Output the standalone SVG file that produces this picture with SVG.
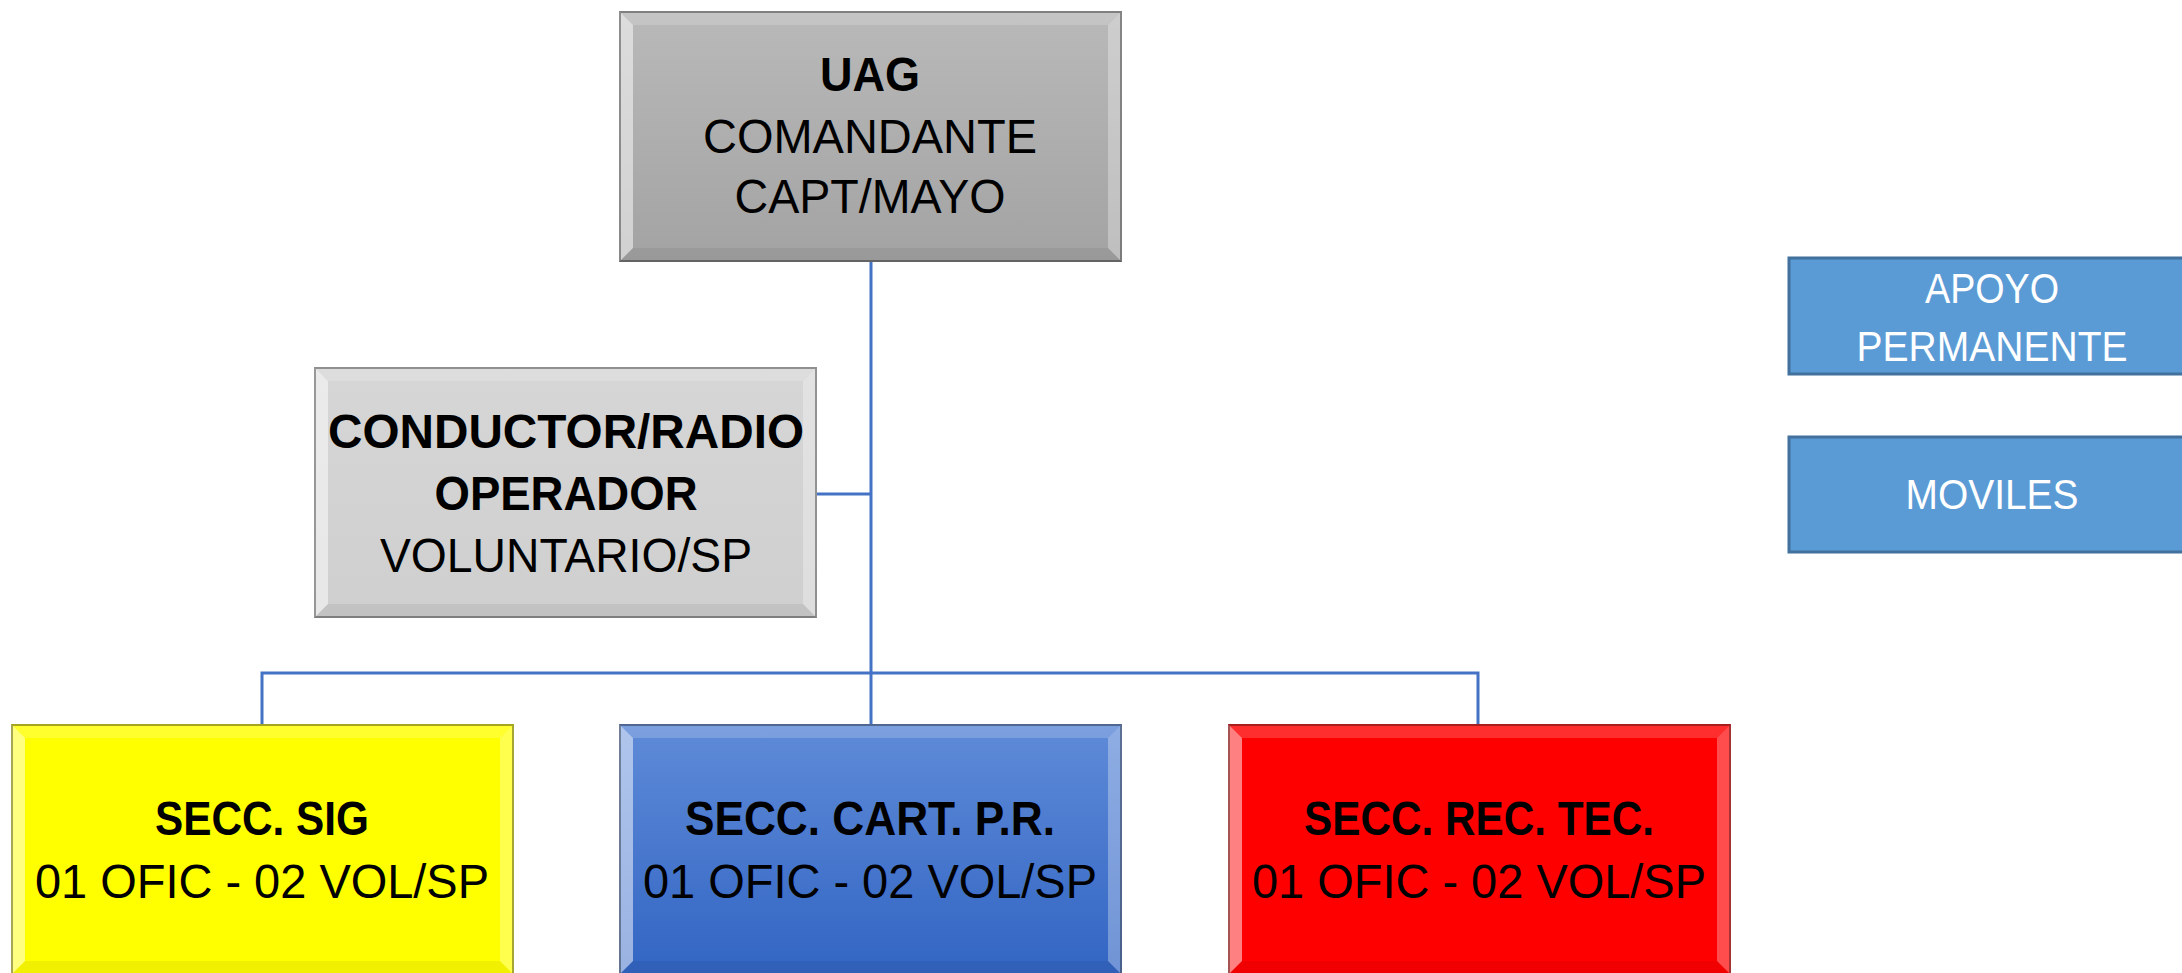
<svg xmlns="http://www.w3.org/2000/svg" xmlns:xlink="http://www.w3.org/1999/xlink" width="2182" height="973" viewBox="0 0 2182 973">
<style>
text{font-family:"Liberation Sans",Arial,sans-serif;font-size:48px;fill:#000;text-anchor:middle}
.b{font-weight:bold}
.w{fill:#fff;font-size:42px}
.conn{stroke:#4472c4;stroke-width:3;fill:none}
.flat{fill:#5b9bd5;stroke:#41719c;stroke-width:3}
.edge{fill:none;stroke:#000;stroke-opacity:0.35;stroke-width:2}
</style>
<defs>
<linearGradient id="gUag" x1="0" y1="0" x2="0" y2="1"><stop offset="0" stop-color="#b9b9b9"/><stop offset="1" stop-color="#a3a3a3"/></linearGradient>
<linearGradient id="gCond" x1="0" y1="0" x2="0" y2="1"><stop offset="0" stop-color="#d6d6d6"/><stop offset="1" stop-color="#cfcfcf"/></linearGradient>
<linearGradient id="gBlue" x1="0" y1="0" x2="0" y2="1"><stop offset="0" stop-color="#5f8bd8"/><stop offset="1" stop-color="#3265c3"/></linearGradient>
<g id="bevel">
<polygon points="0,0 503,0 489,14 14,14" fill="#fff" fill-opacity="0.18"/>
<polygon points="0,0 14,14 14,237 0,251" fill="#fff" fill-opacity="0.5"/>
<polygon points="503,0 503,251 489,237 489,14" fill="#fff" fill-opacity="0.3"/>
<polygon points="0,251 14,237 489,237 503,251" fill="#000" fill-opacity="0.06"/>
<rect x="1" y="1" width="501" height="249" class="edge"/>
</g>
</defs>
<rect width="2182" height="973" fill="#fff"/>
<g id="connectors">
<path class="conn" d="M871,262 V724"/>
<path class="conn" d="M817,494 H871"/>
<path class="conn" d="M262,724 V673 H1478 V724"/>
</g>
<g id="uag">
<rect x="619" y="11" width="503" height="251" fill="url(#gUag)"/>
<use xlink:href="#bevel" x="619" y="11"/>
<text x="870" y="91" class="b" textLength="100" lengthAdjust="spacingAndGlyphs">UAG</text>
<text x="870" y="153" textLength="334" lengthAdjust="spacingAndGlyphs">COMANDANTE</text>
<text x="870" y="213" textLength="271" lengthAdjust="spacingAndGlyphs">CAPT/MAYO</text>
</g>
<g id="conductor">
<rect x="314" y="367" width="503" height="251" fill="url(#gCond)"/>
<use xlink:href="#bevel" x="314" y="367"/>
<text x="566" y="448" class="b" textLength="476" lengthAdjust="spacingAndGlyphs">CONDUCTOR/RADIO</text>
<text x="566" y="510" class="b" textLength="263" lengthAdjust="spacingAndGlyphs">OPERADOR</text>
<text x="566" y="572" textLength="372" lengthAdjust="spacingAndGlyphs">VOLUNTARIO/SP</text>
</g>
<g id="secc-sig">
<rect x="11" y="724" width="503" height="251" fill="#ffff00"/>
<use xlink:href="#bevel" x="11" y="724"/>
<text x="262" y="835" class="b" textLength="214" lengthAdjust="spacingAndGlyphs">SECC. SIG</text>
<text x="262" y="898" textLength="454" lengthAdjust="spacingAndGlyphs">01 OFIC - 02 VOL/SP</text>
</g>
<g id="secc-cart">
<rect x="619" y="724" width="503" height="251" fill="url(#gBlue)"/>
<use xlink:href="#bevel" x="619" y="724"/>
<text x="870" y="835" class="b" textLength="370" lengthAdjust="spacingAndGlyphs">SECC. CART. P.R.</text>
<text x="870" y="898" textLength="454" lengthAdjust="spacingAndGlyphs">01 OFIC - 02 VOL/SP</text>
</g>
<g id="secc-rec">
<rect x="1228" y="724" width="503" height="251" fill="#ff0000"/>
<use xlink:href="#bevel" x="1228" y="724"/>
<text x="1479" y="835" class="b" textLength="350" lengthAdjust="spacingAndGlyphs">SECC. REC. TEC.</text>
<text x="1479" y="898" textLength="454" lengthAdjust="spacingAndGlyphs">01 OFIC - 02 VOL/SP</text>
</g>
<g id="apoyo">
<rect x="1789" y="258" width="420" height="116" class="flat"/>
<text x="1992" y="303" class="w" textLength="134" lengthAdjust="spacingAndGlyphs">APOYO</text>
<text x="1992" y="361" class="w" textLength="271" lengthAdjust="spacingAndGlyphs">PERMANENTE</text>
</g>
<g id="moviles">
<rect x="1789" y="437" width="420" height="115" class="flat"/>
<text x="1992" y="509" class="w" textLength="173" lengthAdjust="spacingAndGlyphs">MOVILES</text>
</g>
</svg>
